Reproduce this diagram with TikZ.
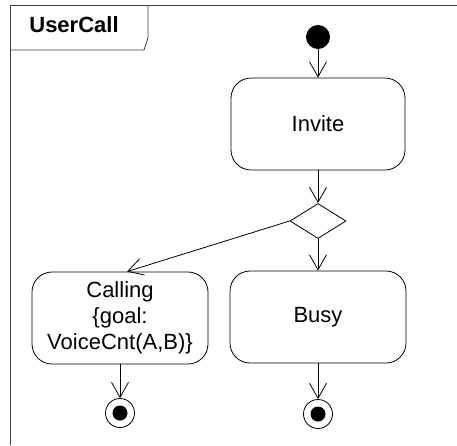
\documentclass[tikz,border=0pt]{standalone}
\usepackage{fontspec}
\setmainfont{Liberation Sans}
\usetikzlibrary{arrows.meta,shapes.geometric}
\begin{document}
\begin{tikzpicture}[x=1pt,y=-1pt,
  line width=0.8pt,
  every node/.style={font=\fontsize{22}{26}\selectfont},
  action/.style={draw, rounded corners=20pt, minimum width=176pt,
    minimum height=92pt, inner sep=0pt, align=center},
  decision/.style={draw, diamond, minimum width=56pt, minimum height=35pt,
    inner sep=0pt},
  initial/.style={circle, fill=black, minimum size=24pt, inner sep=0pt},
  final/.style={circle, draw, minimum size=29pt, inner sep=0pt,
    path picture={\fill (path picture bounding box.center) circle (7.5pt);}},
  flow/.style={draw, -{Straight Barb[length=15pt,width=17pt]}},
  frameline/.style={draw=black!75}]
\useasboundingbox (0,0) rectangle (457,445);

% activity frame and its name tab
\draw[frameline] (10,445) -- (10,5) -- (457,5);
\draw[frameline] (10,50) -- (144,50) -- (148,38) -- (148,5);
\node[font=\fontsize{22}{26}\selectfont\bfseries] (title) at (74,25) {UserCall};

% nodes
\node[initial] (start) at (318,37) {};
\node[action, minimum width=174pt] (invite) at (318,124) {Invite};
\node[decision] (dec) at (318,221) {};
\node[action] (calling) at (120,318) {Calling\\\{goal:\\VoiceCnt(A,B)\}};
\node[action] (busy) at (318,317) {Busy};
\node[final] (end1) at (120,413) {};
\node[final] (end2) at (318,414) {};

% control flows
\draw[flow] (start) -- (invite);
\draw[flow] (invite) -- (dec);
\draw[flow] (dec.south) -- (busy.north);
\draw[flow] (dec.west) -- ([xshift=7pt]calling.north);
\draw[flow] (calling) -- (end1);
\draw[flow] (busy) -- (end2);
\end{tikzpicture}
\end{document}
